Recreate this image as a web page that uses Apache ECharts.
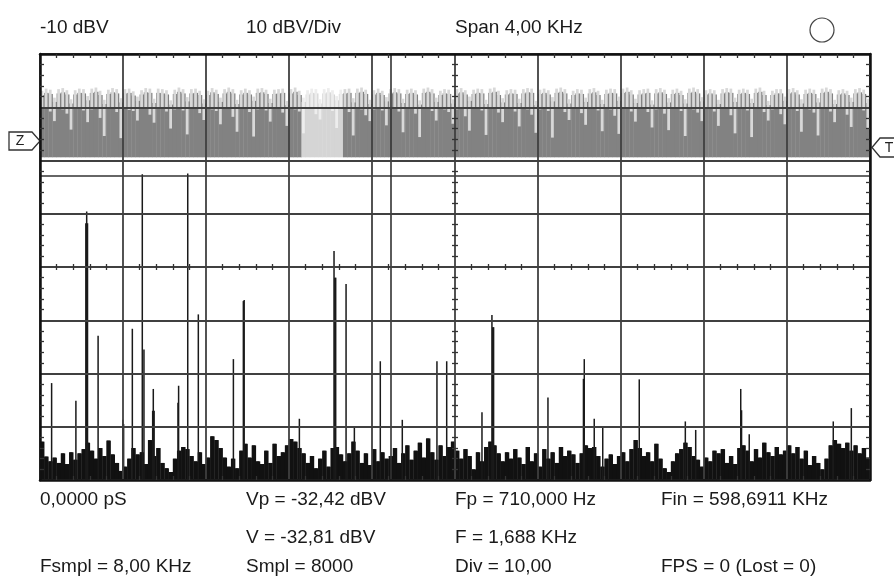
<!DOCTYPE html>
<html>
<head>
<meta charset="utf-8">
<title>Spectrum</title>
<script src="https://cdn.jsdelivr.net/npm/echarts@6/dist/echarts.min.js"></script>
<style>
  html, body { margin: 0; padding: 0; background: #fff; }
  #chart { width: 894px; height: 580px; }
</style>
</head>
<body>
<div id="chart"></div>
<script>
// spectrum noise floor, dBV, one value per 20 Hz bin (0 .. 4000 Hz)
var noiseFloor = [
  -82.8, -85.6, -86.5, -85.8, -86.8, -85.0, -87.0, -84.8, -86.2, -85.0,
  -84.2, -83.0, -84.5, -86.0, -84.0, -85.5, -82.6, -85.2, -86.8, -88.3,
  -87.5, -86.0, -84.0, -85.2, -84.8, -87.0, -82.5, -85.5, -84.0, -86.8,
  -87.8, -88.5, -86.0, -84.5, -83.8, -84.2, -85.5, -86.5, -84.8, -87.0,
  -85.8, -81.8, -82.5, -84.0, -85.8, -87.5, -86.0, -87.8, -84.5, -83.2,
  -85.8, -83.5, -86.5, -87.0, -84.5, -86.8, -83.2, -85.5, -84.8, -83.5,
  -82.3, -82.8, -84.0, -85.0, -86.8, -85.5, -87.8, -86.0, -84.5, -87.5,
  -84.0, -83.8, -85.2, -86.5, -85.0, -82.8, -84.5, -86.8, -85.0, -87.2,
  -84.2, -86.5, -84.8, -86.0, -85.5, -84.0, -86.8, -85.0, -83.5, -86.2,
  -84.5, -83.0, -85.8, -82.2, -84.8, -86.2, -83.5, -85.5, -83.8, -82.8,
  -84.5, -86.0, -84.2, -85.5, -88.0, -84.8, -86.5, -83.8, -82.8, -83.5,
  -85.0, -86.5, -84.8, -86.0, -84.2, -85.8, -87.0, -83.8, -86.5, -85.0,
  -87.5, -84.2, -86.0, -84.8, -86.8, -83.8, -85.5, -84.5, -85.2, -86.8,
  -85.0, -83.5, -84.0, -83.8, -85.5, -87.5, -86.0, -85.2, -87.0, -85.5,
  -84.8, -86.5, -84.2, -82.5, -84.0, -85.5, -84.8, -86.5, -83.2, -86.0,
  -87.8, -88.5, -86.5, -85.0, -84.2, -83.0, -83.8, -85.5, -86.2, -87.5,
  -85.8, -86.5, -84.5, -85.0, -84.2, -86.8, -85.5, -87.0, -84.0, -83.5,
  -84.5, -86.5, -84.2, -85.8, -83.0, -84.8, -85.5, -83.8, -85.2, -84.5,
  -83.5, -85.0, -83.8, -86.0, -84.5, -87.2, -85.5, -86.8, -88.0, -86.0,
  -83.5, -82.5, -83.2, -84.0, -83.0, -84.5, -83.5, -85.0, -84.0, -85.8
]
var noiseBase = -88.6

// discrete spectral lines (Hz, dBV)
var spikeFreq = [
  56, 173, 221, 225, 229, 280, 399, 403, 445, 493, 501, 543, 546, 550,
  665, 668, 712, 763, 932, 980, 984, 1250, 1417, 1421, 1425, 1475, 1515,
  1640, 1746, 1913, 1960, 2130, 2178, 2182, 2186, 2448, 2619, 2623, 2671,
  2712, 2888, 3110, 3160, 3377, 3381, 3418, 3823, 3910
]
var spikeLevel = [
  -71.8, -75.1, -41.8, -39.6, -41.8, -62.9, -78.7, -79.5, -61.6, -32.6, -65.5, -77.0, -72.9, -77.0,
  -75.5, -72.3, -32.42, -58.9, -67.3, -56.4, -56.2, -78.5, -47.0, -52.0, -52.0, -53.2, -80.0,
  -67.7, -78.7, -67.7, -67.7, -77.3, -59.0, -61.3, -61.3, -74.5, -71.0, -67.3, -78.5,
  -80.0, -71.1, -79.0, -80.6, -72.9, -76.9, -81.4, -79.0, -76.5
]

// upper trace band: light bar top / bottom per 20 Hz column
var bandTop = [
  -16.9, -16.5, -16.7, -18.2, -16.6, -16.4, -16.8, -18.5, -16.8, -16.5, -16.6, -17.9,
  -16.5, -16.3, -16.9, -18.6, -16.7, -16.4, -16.6, -18.3, -16.6, -16.5, -17.0, -18.0,
  -16.8, -16.4, -16.5, -18.4, -16.5, -16.6, -16.8, -18.7, -16.7, -16.3, -16.6, -18.1,
  -16.6, -16.5, -16.9, -18.5, -16.9, -16.4, -16.7, -18.2, -16.6, -16.3, -16.6, -18.6,
  -16.8, -16.5, -16.8, -18.0, -16.5, -16.4, -16.7, -18.4, -16.7, -16.6, -16.5, -18.8,
  -16.6, -16.3, -16.9, -18.2, -16.8, -16.5, -16.6, -18.5, -16.6, -16.4, -16.8, -17.9,
  -16.7, -16.6, -16.5, -18.3, -16.5, -16.3, -16.7, -18.6, -16.8, -16.5, -16.9, -18.1,
  -16.6, -16.4, -16.6, -18.4, -16.7, -16.5, -16.8, -18.7, -16.5, -16.3, -16.6, -18.2,
  -16.9, -16.6, -16.7, -18.5, -16.6, -16.4, -16.8, -18.0, -16.7, -16.5, -16.6, -18.6,
  -16.5, -16.3, -16.9, -18.3, -16.8, -16.6, -16.7, -18.4, -16.6, -16.4, -16.5, -18.8,
  -16.7, -16.5, -16.8, -18.1, -16.5, -16.3, -16.6, -18.5, -16.9, -16.6, -16.7, -18.2,
  -16.6, -16.4, -16.9, -18.6, -16.7, -16.5, -16.6, -18.0, -16.5, -16.3, -16.8, -18.4,
  -16.8, -16.6, -16.5, -18.7, -16.6, -16.4, -16.7, -18.3, -16.7, -16.5, -16.9, -18.5,
  -16.5, -16.3, -16.6, -18.1, -16.8, -16.6, -16.8, -18.6, -16.6, -16.4, -16.5, -18.2,
  -16.7, -16.5, -16.7, -18.4, -16.5, -16.3, -16.9, -18.8, -16.9, -16.6, -16.6, -18.0,
  -16.6, -16.4, -16.8, -18.5, -16.7, -16.5, -16.7, -18.3, -16.5, -16.3, -16.6, -18.6,
  -16.8, -16.6, -16.9, -18.2, -16.6, -16.4, -16.7, -18.4
]
var bandDip = [
  -20.3, -20.1, -20.8, -22.6, -20.2, -20.4, -21.2, -24.2, -20.1, -20.3, -20.6, -22.8,
  -20.4, -20.2, -22.0, -25.4, -20.2, -20.1, -20.9, -25.8, -20.3, -20.5, -20.7, -22.5,
  -20.1, -20.2, -21.4, -22.9, -20.2, -20.3, -20.8, -24.0, -20.4, -20.1, -20.6, -25.1,
  -20.2, -20.2, -21.1, -22.4, -20.1, -20.4, -20.7, -23.2, -20.3, -20.2, -21.8, -24.6,
  -20.2, -20.1, -20.9, -25.5, -20.4, -20.3, -20.6, -22.7, -20.1, -20.2, -21.0, -23.5,
  -20.3, -20.4, -20.8, -24.9, -20.2, -20.1, -21.3, -22.3, -20.1, -20.3, -20.7, -23.9,
  -20.3, -20.2, -20.9, -25.3, -20.2, -20.4, -21.5, -22.6, -20.4, -20.1, -20.6, -23.4,
  -20.1, -20.3, -20.8, -24.7, -20.3, -20.2, -21.2, -25.6, -20.2, -20.1, -20.7, -22.5,
  -20.1, -20.4, -20.9, -23.1, -20.4, -20.2, -21.7, -24.4, -20.2, -20.3, -20.6, -25.2,
  -20.3, -20.1, -21.0, -22.8, -20.1, -20.2, -20.8, -23.6, -20.2, -20.4, -21.4, -24.8,
  -20.4, -20.1, -20.7, -25.7, -20.1, -20.3, -20.9, -22.4, -20.3, -20.2, -21.1, -23.3,
  -20.2, -20.1, -20.6, -24.5, -20.1, -20.4, -21.6, -25.0, -20.3, -20.2, -20.8, -22.7,
  -20.2, -20.3, -20.9, -23.8, -20.4, -20.1, -21.2, -24.3, -20.1, -20.2, -20.7, -25.4,
  -20.3, -20.4, -21.0, -22.6, -20.2, -20.1, -20.8, -23.5, -20.1, -20.3, -21.5, -24.9,
  -20.3, -20.2, -20.6, -25.6, -20.2, -20.1, -20.9, -22.5, -20.4, -20.3, -21.3, -23.2,
  -20.1, -20.2, -20.7, -24.6, -20.3, -20.4, -21.0, -25.3, -20.2, -20.1, -20.8, -22.8,
  -20.1, -20.3, -21.4, -23.7, -20.3, -20.2, -20.6, -24.1
]
var bandBase = -29.4
var highlight = [1260, 1460]

var binWidth = 20
var cursorF = 1688
var cursorV = -32.81

var headerTexts = ['-10 dBV', '10 dBV/Div', 'Span 4,00 KHz']
var footerRows = [
  ['0,0000 pS', 'Vp = -32,42 dBV', 'Fp = 710,000 Hz', 'Fin = 598,6911 KHz'],
  ['', 'V = -32,81 dBV', 'F = 1,688 KHz', ''],
  ['Fsmpl = 8,00 KHz', 'Smpl = 8000', 'Div = 10,00', 'FPS = 0 (Lost = 0)']
]

var FONT = '19px "Liberation Sans", Arial, sans-serif'
var colX = [40, 246, 455, 661]
var rowY = [500, 538, 567]

var chart = echarts.init(document.getElementById('chart'), null, {renderer: 'canvas'})

function axis(dim, position, opts) {
  var a = {
    type: 'value',
    position: position,
    min: dim === 'x' ? 0 : -90,
    max: dim === 'x' ? 4000 : -10,
    interval: dim === 'x' ? 400 : 10,
    z: 10,
    silent: true,
    axisLabel: {show: false},
    splitLine: {show: false},
    axisLine: {show: false, onZero: false},
    axisTick: {show: false},
    minorTick: {show: false}
  }
  return Object.assign(a, opts || {})
}

var tickStyle = {color: '#333', width: 1.3}
var gridLine = {show: true, lineStyle: {color: '#404040', width: 1.8}}
var frameLine = {show: true, onZero: false, lineStyle: {color: '#111', width: 2.5}}

var bandData = bandTop.map(function (t, i) { return [i * binWidth, t, bandDip[i]] })
var noiseData = noiseFloor.map(function (v, i) { return [i * binWidth, v] })
var spikeData = spikeFreq.map(function (f, i) { return [f, spikeLevel[i]] })

var graphics = []
headerTexts.forEach(function (t, i) {
  graphics.push({type: 'text', x: colX[i], y: 28, style: {text: t, font: FONT, fill: '#1a1a1a', verticalAlign: 'middle'}})
})
footerRows.forEach(function (row, r) {
  row.forEach(function (t, c) {
    if (!t) return
    graphics.push({type: 'text', x: colX[c], y: rowY[r], style: {text: t, font: FONT, fill: '#1a1a1a', verticalAlign: 'middle'}})
  })
})
// status lamp
graphics.push({type: 'circle', shape: {cx: 822, cy: 30, r: 12}, style: {fill: '#fff', stroke: '#444', lineWidth: 1.2}})
// channel markers
graphics.push({type: 'polygon', shape: {points: [[9, 132], [32, 132], [40, 141], [32, 150], [9, 150]]}, style: {fill: '#fff', stroke: '#333', lineWidth: 1.3}})
graphics.push({type: 'text', x: 20, y: 141, style: {text: 'Z', font: '14px "Liberation Sans", Arial, sans-serif', fill: '#222', align: 'center', verticalAlign: 'middle'}})
graphics.push({type: 'polygon', shape: {points: [[872, 147.5], [880, 138], [900, 138], [900, 157], [880, 157]]}, style: {fill: '#fff', stroke: '#333', lineWidth: 1.3}})
graphics.push({type: 'text', x: 889, y: 148, style: {text: 'T', font: '14px "Liberation Sans", Arial, sans-serif', fill: '#222', align: 'center', verticalAlign: 'middle'}})

var option = {
  animation: false,
  backgroundColor: '#fff',
  grid: {left: 40, top: 54, width: 830, height: 426, containLabel: false, outerBoundsMode: 'none', show: false},
  xAxis: [
    axis('x', 'bottom', {
      axisLine: frameLine,
      splitLine: gridLine,
      axisTick: {show: false, inside: true},
      minorTick: {show: true, splitNumber: 5, length: 4, lineStyle: tickStyle}
    }),
    axis('x', 'top', {
      axisLine: frameLine,
      axisTick: {show: false, inside: true},
      minorTick: {show: true, splitNumber: 5, length: 4, lineStyle: tickStyle}
    }),
    // tick marks across the centre horizontal line
    axis('x', 'bottom', {
      offset: -213,
      axisTick: {show: false, inside: true},
      minorTick: {show: true, splitNumber: 5, length: 3, lineStyle: tickStyle}
    }),
    axis('x', 'bottom', {
      offset: -213,
      axisTick: {show: false, inside: false},
      minorTick: {show: true, splitNumber: 5, length: 3, lineStyle: tickStyle}
    })
  ],
  yAxis: [
    axis('y', 'left', {
      axisLine: frameLine,
      splitLine: gridLine,
      axisTick: {show: false, inside: true},
      minorTick: {show: true, splitNumber: 5, length: 4, lineStyle: tickStyle}
    }),
    axis('y', 'right', {
      axisLine: frameLine,
      axisTick: {show: false, inside: true},
      minorTick: {show: true, splitNumber: 5, length: 4, lineStyle: tickStyle}
    }),
    // tick marks across the centre vertical line
    axis('y', 'left', {
      offset: -415,
      axisTick: {show: false, inside: true},
      minorTick: {show: true, splitNumber: 5, length: 3, lineStyle: tickStyle}
    }),
    axis('y', 'left', {
      offset: -415,
      axisTick: {show: false, inside: false},
      minorTick: {show: true, splitNumber: 5, length: 3, lineStyle: tickStyle}
    })
  ],
  series: [
    {
      name: 'band',
      type: 'custom',
      xAxisIndex: 0,
      yAxisIndex: 0,
      silent: true,
      clip: true,
      z: 2,
      data: bandData,
      renderItem: function (params, api) {
        var f = api.value(0)
        var top = api.value(1)
        var dip = api.value(2)
        var w = api.size([binWidth, 0])[0]
        var base = api.coord([f, bandBase])
        var darkTop = api.coord([f, top - 0.8])
        var lTop = api.coord([f, top])
        var lBot = api.coord([f, dip])
        var lit = f >= highlight[0] && f + binWidth <= highlight[1]
        return {
          type: 'group',
          children: [
            {type: 'rect', shape: {x: base[0], y: darkTop[1], width: w + 0.4, height: base[1] - darkTop[1]},
              style: {fill: lit ? '#d5d5d5' : '#828282'}},
            {type: 'rect', shape: {x: base[0] + 0.6, y: lTop[1], width: w - 1.4, height: lBot[1] - lTop[1]},
              style: {fill: lit ? '#ededed' : '#d8d8d8'}}
          ]
        }
      }
    },
    {
      name: 'noise',
      type: 'custom',
      xAxisIndex: 0,
      yAxisIndex: 0,
      silent: true,
      clip: true,
      z: 2,
      data: noiseData,
      renderItem: function (params, api) {
        var f = api.value(0)
        var v = api.value(1)
        var p = api.coord([f, v])
        var b = api.coord([f, -90])
        var m = api.coord([f, Math.max(v, noiseBase)])
        var w = api.size([binWidth, 0])[0]
        return {
          type: 'group',
          children: [
            {type: 'rect', shape: {x: p[0] + 0.4, y: p[1], width: w - 1, height: b[1] - p[1]}, style: {fill: '#111'}},
            {type: 'rect', shape: {x: p[0], y: m[1], width: w + 0.3, height: b[1] - m[1]}, style: {fill: '#111'}}
          ]
        }
      }
    },
    {
      name: 'lines',
      type: 'custom',
      xAxisIndex: 0,
      yAxisIndex: 0,
      silent: true,
      clip: true,
      z: 3,
      data: spikeData,
      renderItem: function (params, api) {
        var p = api.coord([api.value(0), api.value(1)])
        var b = api.coord([api.value(0), -90])
        return {type: 'line', shape: {x1: p[0], y1: p[1], x2: b[0], y2: b[1]}, style: {stroke: '#1a1a1a', lineWidth: 1.5}}
      },
      markLine: {
        silent: true,
        symbol: 'none',
        label: {show: false},
        lineStyle: {color: '#333', width: 1.6, type: 'solid'},
        data: [{xAxis: cursorF}, {yAxis: cursorV}]
      }
    }
  ],
  graphic: graphics
}

chart.setOption(option)
</script>
</body>
</html>
